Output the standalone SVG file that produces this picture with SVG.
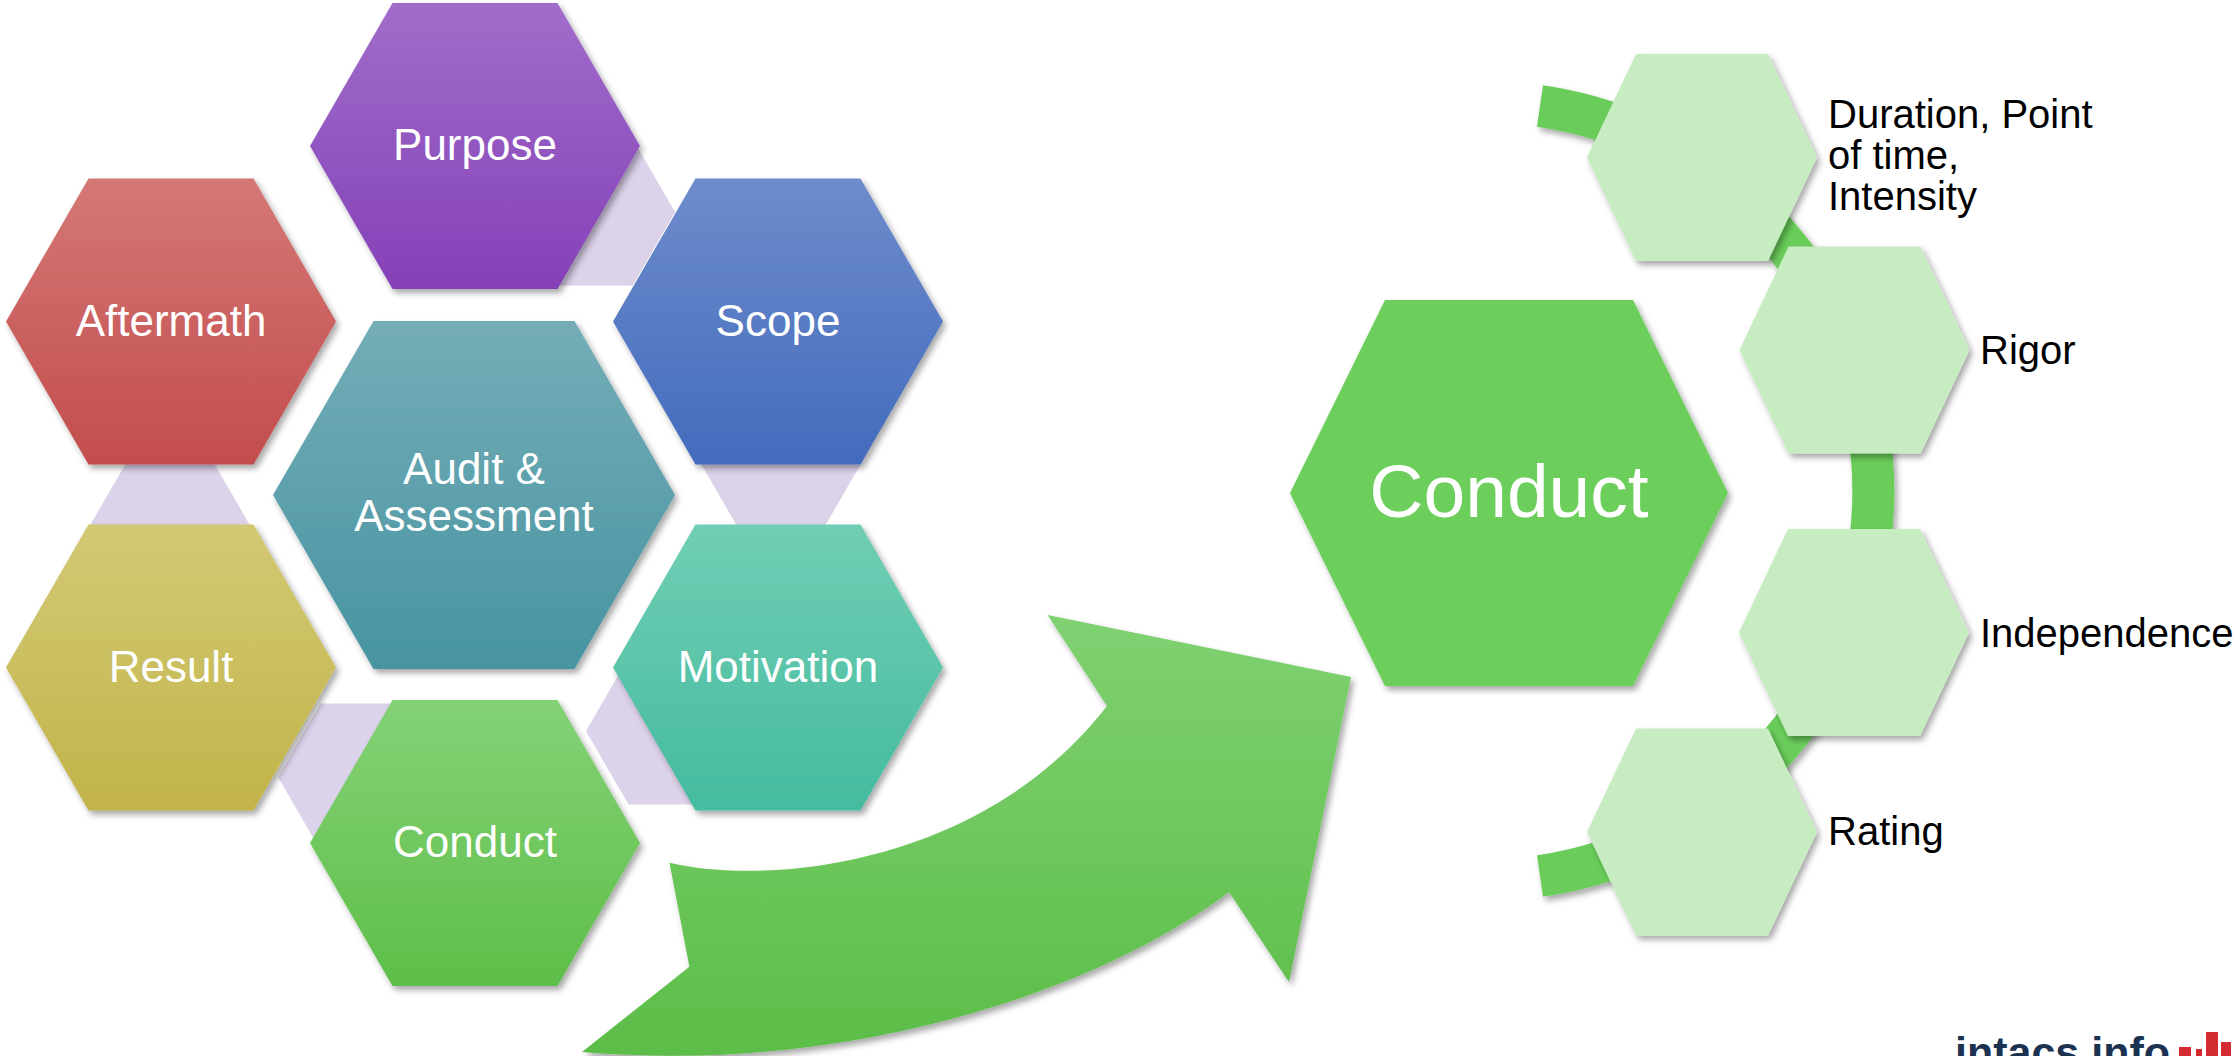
<svg xmlns="http://www.w3.org/2000/svg" width="2234" height="1056" viewBox="0 0 2234 1056">
<style>
.lbl{font-family:"Liberation Sans",Arial,sans-serif;font-size:44px;fill:#fff;text-anchor:middle}
.side{font-family:"Liberation Sans",Arial,sans-serif;font-size:40px;fill:#000}
.lav{fill:#DCD2E9}
.sm{fill:#C7ECC1;filter:url(#sh)}
.hx{filter:url(#sh)}
</style>
<defs>
<filter id="sh" x="-10%" y="-10%" width="130%" height="130%"><feDropShadow dx="3" dy="4" stdDeviation="3" flood-color="#000" flood-opacity="0.35"/></filter>
<linearGradient id="gP" x1="0" y1="0" x2="0" y2="1"><stop offset="0" stop-color="#A06DCA"/><stop offset="1" stop-color="#8540B8"/></linearGradient>
<linearGradient id="gA" x1="0" y1="0" x2="0" y2="1"><stop offset="0" stop-color="#D47876"/><stop offset="1" stop-color="#C34D4D"/></linearGradient>
<linearGradient id="gS" x1="0" y1="0" x2="0" y2="1"><stop offset="0" stop-color="#6E8CCC"/><stop offset="1" stop-color="#436BBD"/></linearGradient>
<linearGradient id="gAu" x1="0" y1="0" x2="0" y2="1"><stop offset="0" stop-color="#74ADB7"/><stop offset="1" stop-color="#4794A1"/></linearGradient>
<linearGradient id="gR" x1="0" y1="0" x2="0" y2="1"><stop offset="0" stop-color="#D2C974"/><stop offset="1" stop-color="#C2B44A"/></linearGradient>
<linearGradient id="gM" x1="0" y1="0" x2="0" y2="1"><stop offset="0" stop-color="#70CEB4"/><stop offset="1" stop-color="#45BB9F"/></linearGradient>
<linearGradient id="gC" x1="0" y1="0" x2="0" y2="1"><stop offset="0" stop-color="#84D276"/><stop offset="1" stop-color="#5EBE49"/></linearGradient>
<linearGradient id="gArrow" x1="0" y1="0" x2="0" y2="1"><stop offset="0" stop-color="#80D172"/><stop offset="1" stop-color="#5CBD48"/></linearGradient>
</defs>
<rect width="2234" height="1056" fill="#fff"/>

<g id="connectors">
<polygon class="lav" points="505,212 547.5,138.4 632.5,138.4 675,212 632.5,285.6 547.5,285.6"/>
<polygon class="lav" points="696,455 738.5,381.4 823.5,381.4 866,455 823.5,528.6 738.5,528.6"/>
<polygon class="lav" points="586,731 628.5,657.4 713.5,657.4 756,731 713.5,804.6 628.5,804.6"/>
<polygon class="lav" points="278,777 320.5,703.4 405.5,703.4 448,777 405.5,850.6 320.5,850.6"/>
<polygon class="lav" points="85,534 127.5,460.4 212.5,460.4 255,534 212.5,607.6 127.5,607.6"/>
<path id="bigArrow" d="M669.5,862.7 C760,885 980,870 1107,706 L1047.6,615 L1351,677 L1289,982 L1229,892 C1100,990 850,1075 582,1052 L689.4,966.7 Z" fill="url(#gArrow)" filter="url(#sh)"/>
<path id="arc" d="M1540,106 A389,389 0 0 1 1540,876" fill="none" stroke="#6ACD5A" stroke-width="42" filter="url(#sh)"/>
</g>

<g id="purpose"><polygon class="hx" fill="url(#gP)" points="310,146 392.5,3 557.5,3 640,146 557.5,289 392.5,289"/><text class="lbl" x="475" y="160">Purpose</text></g>
<g id="aftermath"><polygon class="hx" fill="url(#gA)" points="6,321.5 88.5,178.5 253.5,178.5 336,321.5 253.5,464.5 88.5,464.5"/><text class="lbl" x="171" y="336">Aftermath</text></g>
<g id="scope"><polygon class="hx" fill="url(#gS)" points="613,321.5 695.5,178.5 860.5,178.5 943,321.5 860.5,464.5 695.5,464.5"/><text class="lbl" x="778" y="336">Scope</text></g>
<g id="audit"><polygon class="hx" fill="url(#gAu)" points="273,495 373.5,321 574.5,321 675,495 574.5,669 373.5,669"/><text class="lbl" x="474" y="484">Audit &amp;</text><text class="lbl" x="474" y="531">Assessment</text></g>
<g id="result"><polygon class="hx" fill="url(#gR)" points="6,667.5 88.5,524.5 253.5,524.5 336,667.5 253.5,810.5 88.5,810.5"/><text class="lbl" x="171" y="682">Result</text></g>
<g id="motivation"><polygon class="hx" fill="url(#gM)" points="613,667.5 695.5,524.5 860.5,524.5 943,667.5 860.5,810.5 695.5,810.5"/><text class="lbl" x="778" y="682">Motivation</text></g>
<g id="conduct"><polygon class="hx" fill="url(#gC)" points="310,843 392.5,700 557.5,700 640,843 557.5,986 392.5,986"/><text class="lbl" x="475" y="857">Conduct</text></g>

<g id="conduct-big"><polygon class="hx" fill="#6CCF5C" points="1290,493 1385,300 1633,300 1728,493 1633,686 1385,686"/><text x="1509" y="517" font-family="Liberation Sans, Arial, sans-serif" font-size="75" fill="#fff" text-anchor="middle">Conduct</text></g>

<g id="duration"><polygon class="sm" points="1587,157.5 1636,54 1768,54 1817,157.5 1768,261 1636,261"/><text class="side" x="1828" y="128">Duration, Point</text><text class="side" x="1828" y="169">of time,</text><text class="side" x="1828" y="210">Intensity</text></g>
<g id="rigor"><polygon class="sm" points="1739.5,350 1788.5,246.5 1920.5,246.5 1969.5,350 1920.5,453.5 1788.5,453.5"/><text class="side" x="1980" y="364">Rigor</text></g>
<g id="independence"><polygon class="sm" points="1739,632.5 1788,529 1920,529 1969,632.5 1920,736 1788,736"/><text class="side" x="1980" y="646.5">Independence</text></g>
<g id="rating"><polygon class="sm" points="1587,832 1636,728.5 1768,728.5 1817,832 1768,935.5 1636,935.5"/><text class="side" x="1828" y="845">Rating</text></g>

<g id="logo">
<text x="1955" y="1067" font-family="Liberation Sans, Arial, sans-serif" font-size="43" font-weight="bold" fill="#1C3251">intacs info</text>
<rect x="2179" y="1047" width="12" height="12" fill="#D42A32"/>
<rect x="2196" y="1049" width="6" height="10" fill="#D42A32"/>
<rect x="2206" y="1032" width="12" height="27" fill="#D42A32"/>
<rect x="2221" y="1042" width="10" height="17" fill="#D42A32"/>
</g>
</svg>
